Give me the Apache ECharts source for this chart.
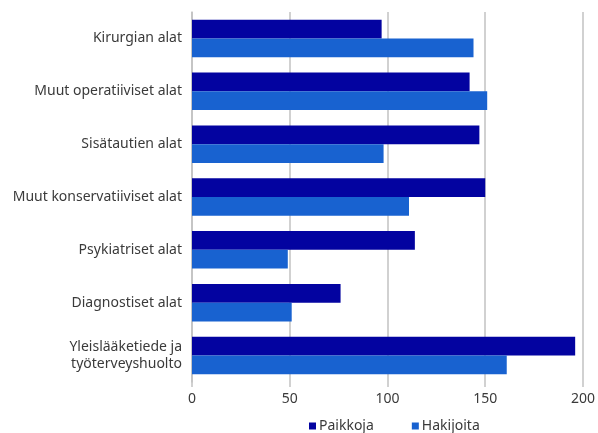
<!DOCTYPE html>
<html>
<head>
<meta charset="utf-8">
<script src="https://cdn.jsdelivr.net/npm/echarts@6/dist/echarts.min.js"></script>
<style>
html,body{margin:0;padding:0;background:#fff;}
#main{width:598px;height:433px;}
</style>
</head>
<body>
<div id="main"></div>
<script>
const categories = [
  "Kirurgian alat",
  "Muut operatiiviset alat",
  "Sisätautien alat",
  "Muut konservatiiviset alat",
  "Psykiatriset alat",
  "Diagnostiset alat",
  "Yleislääketiede ja\ntyöterveyshuolto"
];
const paikkoja = [97, 142, 147, 150, 114, 76, 196];
const hakijoita = [144, 151, 98, 111, 49, 51, 161];
const xTicks = [0, 50, 100, 150, 200];
const seriesNames = ["Paikkoja", "Hakijoita"];

const chart = echarts.init(document.getElementById('main'), null, {renderer: 'canvas'});
const fontFam = '"Noto Sans", "Open Sans", sans-serif';
chart.setOption({
  animation: false,
  textStyle: {fontFamily: fontFam},
  grid: {left: 192, right: 15, top: 12, bottom: 51, containLabel: false},
  legend: {
    data: seriesNames,
    bottom: -5,
    left: 304,
    itemWidth: 7,
    itemHeight: 7,
    itemGap: 38,
    icon: 'rect',
    textStyle: {fontSize: 14, color: '#3a3a3a', fontFamily: fontFam, padding: [0,0,0,-2]}
  },
  xAxis: {
    type: 'value',
    min: xTicks[0],
    max: xTicks[xTicks.length - 1],
    interval: 50,
    axisLine: {show: false},
    axisTick: {show: true, length: 5, lineStyle: {color: '#c2c2c2', width: 1.5}},
    splitLine: {show: true, lineStyle: {color: '#c2c2c2', width: 1.5}},
    axisLabel: {fontSize: 14, color: '#3a3a3a', margin: 10, fontFamily: fontFam}
  },
  yAxis: {
    type: 'category',
    data: categories,
    inverse: true,
    axisLine: {show: true, lineStyle: {color: '#c2c2c2', width: 1.5}},
    axisTick: {show: false},
    axisLabel: {fontSize: 14, color: '#3a3a3a', margin: 10, lineHeight: 17, align: 'right', fontFamily: fontFam}
  },
  series: [
    {
      name: seriesNames[0],
      type: 'bar',
      data: paikkoja,
      barGap: '0%',
      barCategoryGap: '29%',
      itemStyle: {color: '#0303a0'}
    },
    {
      name: seriesNames[1],
      type: 'bar',
      data: hakijoita,
      itemStyle: {color: '#1862d0'}
    }
  ]
});
</script>
</body>
</html>
